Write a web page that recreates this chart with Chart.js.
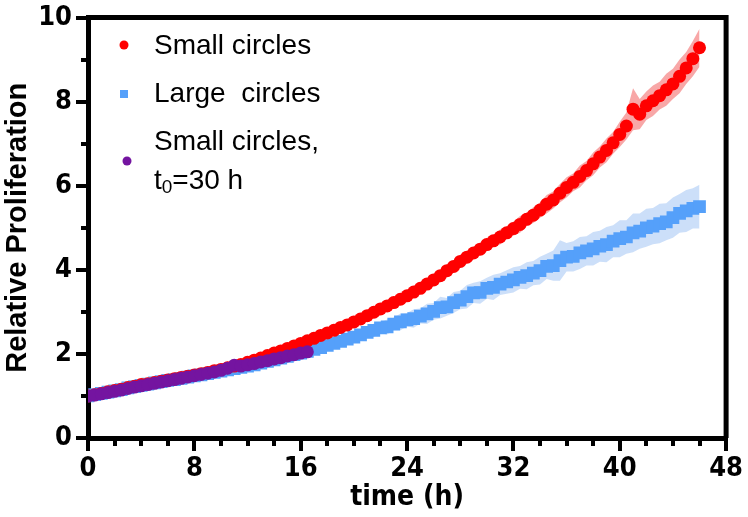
<!DOCTYPE html>
<html><head><meta charset="utf-8">
<script src="https://cdn.jsdelivr.net/npm/chart.js@4.4.0/dist/chart.umd.min.js"></script>
<style>html,body{margin:0;padding:0;background:#fff;}#wrap{position:relative;width:748px;height:517px;}</style>
</head><body><div id="wrap"><canvas id="c" width="748" height="517"></canvas></div>
<script>
// ---- data ----
const times = [0,0.5,1,1.5,2,2.5,3,3.5,4,4.5,5,5.5,6,6.5,7,7.5,8,8.5,9,9.5,10,10.5,11,11.5,12,12.5,13,13.5,14,14.5,15,15.5,16,16.5,17,17.5,18,18.5,19,19.5,20,20.5,21,21.5,22,22.5,23,23.5,24,24.5,25,25.5,26,26.5,27,27.5,28,28.5,29,29.5,30,30.5,31,31.5,32,32.5,33,33.5,34,34.5,35,35.5,36,36.5,37,37.5,38,38.5,39,39.5,40,40.5,41,41.5,42,42.5,43,43.5,44,44.5,45,45.5,46];
const smallCircles = [1.00,1.03,1.06,1.10,1.13,1.16,1.20,1.23,1.27,1.29,
 1.32,1.35,1.38,1.41,1.44,1.47,1.50,1.53,1.56,1.60,
 1.63,1.67,1.71,1.75,1.80,1.85,1.90,1.96,2.02,2.07,
 2.13,2.19,2.25,2.31,2.37,2.44,2.50,2.56,2.63,2.69,
 2.76,2.83,2.91,2.99,3.07,3.14,3.22,3.30,3.38,3.47,
 3.56,3.66,3.76,3.86,3.98,4.08,4.20,4.30,4.40,4.49,
 4.60,4.69,4.78,4.88,4.98,5.08,5.20,5.30,5.42,5.56,
 5.66,5.82,5.96,6.08,6.22,6.36,6.52,6.68,6.84,7.02,
 7.22,7.42,7.82,7.70,7.90,8.02,8.14,8.28,8.42,8.60,
 8.80,9.02,9.28];
const smallCirclesSD = [0.01,0.02,0.02,0.02,0.02,0.02,0.03,0.02,0.03,0.03,
 0.03,0.03,0.03,0.03,0.04,0.03,0.04,0.04,0.04,0.04,
 0.04,0.05,0.04,0.05,0.05,0.05,0.06,0.05,0.06,0.06,
 0.06,0.07,0.06,0.07,0.07,0.08,0.07,0.08,0.08,0.09,
 0.08,0.10,0.09,0.10,0.12,0.09,0.11,0.10,0.12,0.11,
 0.13,0.10,0.14,0.12,0.15,0.12,0.16,0.13,0.15,0.14,
 0.16,0.14,0.18,0.15,0.17,0.20,0.16,0.19,0.18,0.22,
 0.20,0.22,0.24,0.21,0.26,0.23,0.27,0.25,0.28,0.26,
 0.30,0.32,0.50,0.36,0.34,0.36,0.33,0.38,0.36,0.40,
 0.38,0.42,0.45];
const largeCircles = [1.00,1.03,1.06,1.09,1.12,1.15,1.19,1.22,1.25,1.28,
 1.31,1.34,1.37,1.39,1.42,1.45,1.48,1.50,1.53,1.56,
 1.59,1.62,1.65,1.68,1.71,1.74,1.78,1.82,1.86,1.90,
 1.94,1.98,2.02,2.06,2.11,2.15,2.20,2.25,2.30,2.35,
 2.40,2.45,2.51,2.56,2.62,2.64,2.71,2.76,2.81,2.84,
 2.90,2.95,3.01,3.10,3.12,3.22,3.28,3.36,3.45,3.46,
 3.56,3.58,3.66,3.71,3.76,3.82,3.86,3.92,3.98,4.08,
 4.10,4.22,4.30,4.32,4.40,4.45,4.50,4.56,4.60,4.68,
 4.74,4.78,4.88,4.92,5.00,5.04,5.10,5.14,5.24,5.34,
 5.40,5.46,5.50];
const largeCirclesSD = [0.01,0.02,0.02,0.02,0.03,0.02,0.03,0.03,0.03,0.03,
 0.03,0.04,0.03,0.04,0.04,0.04,0.04,0.05,0.04,0.05,
 0.05,0.05,0.06,0.05,0.06,0.06,0.07,0.06,0.07,0.07,
 0.08,0.07,0.08,0.09,0.08,0.10,0.09,0.11,0.10,0.12,
 0.11,0.14,0.12,0.16,0.13,0.18,0.15,0.20,0.16,0.22,
 0.18,0.24,0.20,0.26,0.21,0.25,0.22,0.28,0.24,0.27,
 0.25,0.30,0.26,0.28,0.30,0.27,0.32,0.29,0.33,0.30,
 0.36,0.48,0.34,0.36,0.38,0.35,0.40,0.37,0.42,0.38,
 0.44,0.40,0.46,0.42,0.45,0.43,0.47,0.44,0.48,0.46,
 0.50,0.48,0.52];
const timesT30 = [0,0.5,1,1.5,2,2.5,3,3.5,4,4.5,5,5.5,6,6.5,7,7.5,8,8.5,9,9.5,10,10.5,11,11.5,12,12.5,13,13.5,14,14.5,15,15.5,16,16.5];
const smallCirclesT30 = [1.00,1.02,1.05,1.08,1.11,1.14,1.18,1.21,1.24,1.27,
 1.30,1.33,1.36,1.39,1.42,1.45,1.48,1.51,1.54,1.57,
 1.61,1.66,1.73,1.71,1.74,1.77,1.81,1.84,1.88,1.91,
 1.95,1.98,2.02,2.05];
const xTickLabels = [0,8,16,24,32,40,48];
const yTickLabels = [0,2,4,6,8,10];
const seriesNames = ['Small circles','Large  circles','Small circles,'];

// ---- helpers ----
const pts = (xs, ys) => xs.map((x,i)=>({x:x,y:ys[i]}));
const band = (ys, sd, s) => times.map((x,i)=>({x:x,y:ys[i]+s*sd[i]}));

const RED='#FF0000', BLUE='#55A0FA', PURPLE='#7414A0';
const NARROW='"Liberation Sans Narrow","DejaVu Sans Condensed",Arial,sans-serif';
const SANS='"Liberation Sans",Arial,sans-serif';

const framePlugin = {
  id:'frame',
  afterDraw(chart){
    const ctx=chart.ctx, a=chart.chartArea, xs=chart.scales.x, ys=chart.scales.y;
    ctx.save();
    ctx.strokeStyle='#000'; ctx.lineWidth=5;
    ctx.beginPath();
    ctx.moveTo(a.left, a.top); ctx.lineTo(a.right, a.top); ctx.lineTo(a.right, a.bottom);
    ctx.stroke();
    ctx.lineWidth=4;
    for(let v=0; v<=48; v+=2){
      const px=Math.round(xs.getPixelForValue(v));
      const len = (v%8===0)?13:8;
      ctx.beginPath(); ctx.moveTo(px, a.bottom); ctx.lineTo(px, a.bottom+len); ctx.stroke();
    }
    for(let v=0; v<=10; v+=1){
      const py=Math.round(ys.getPixelForValue(v));
      const len = (v%2===0)?12:7;
      ctx.beginPath(); ctx.moveTo(a.left, py); ctx.lineTo(a.left-len, py); ctx.stroke();
    }
    // legend
    const L=a.left;
    ctx.fillStyle='#000'; ctx.textBaseline='middle'; ctx.textAlign='left';
    ctx.font='28px '+SANS;
    ctx.fillStyle=RED; ctx.beginPath(); ctx.arc(L+36,45,4.5,0,Math.PI*2); ctx.fill();
    ctx.fillStyle='#000'; ctx.fillText(seriesNames[0], L+66, 46);
    ctx.fillStyle=BLUE; ctx.fillRect(L+32,90,8,8);
    ctx.fillStyle='#000'; ctx.fillText(seriesNames[1], L+66, 94);
    ctx.fillStyle=PURPLE; ctx.beginPath(); ctx.arc(L+39,161,4.5,0,Math.PI*2); ctx.fill();
    ctx.fillStyle='#000'; ctx.fillText(seriesNames[2], L+66, 142);
    ctx.fillText('t', L+66, 181);
    const tw=ctx.measureText('t').width;
    ctx.font='19px '+SANS; ctx.fillText('0', L+66+tw, 188);
    const zw=ctx.measureText('0').width;
    ctx.font='28px '+SANS; ctx.fillText('=30 h', L+66+tw+zw, 181);
    ctx.restore();
  }
};

new Chart(document.getElementById('c'), {
  type:'line',
  data:{datasets:[
    {label:'Small circles, t0=30 h', data:pts(timesT30, smallCirclesT30), showLine:false, pointRadius:6.5, pointBackgroundColor:PURPLE, pointBorderWidth:0, order:0},
    {label:'Small circles', data:pts(times, smallCircles), showLine:false, pointRadius:6.5, pointBackgroundColor:RED, pointBorderWidth:0, order:1},
    {label:'Large  circles', data:pts(times, largeCircles), showLine:false, pointStyle:'rect', pointRadius:9, pointBackgroundColor:BLUE, pointBorderWidth:0, order:2},
    {label:'sc+', data:band(smallCircles, smallCirclesSD, 1), pointRadius:0, borderWidth:0, fill:'+1', backgroundColor:'rgba(240,60,60,0.45)', order:3},
    {label:'sc-', data:band(smallCircles, smallCirclesSD, -1), pointRadius:0, borderWidth:0, fill:false, order:3},
    {label:'lc+', data:band(largeCircles, largeCirclesSD, 1), pointRadius:0, borderWidth:0, fill:'+1', backgroundColor:'rgba(85,150,235,0.3)', order:4},
    {label:'lc-', data:band(largeCircles, largeCirclesSD, -1), pointRadius:0, borderWidth:0, fill:false, order:4}
  ]},
  options:{
    responsive:false, animation:false, devicePixelRatio:1,
    layout:{padding:{top:14,right:19,left:0,bottom:0}},
    plugins:{legend:{display:false}, tooltip:{enabled:false}},
    scales:{
      x:{type:'linear', min:0, max:48,
        afterBuildTicks(s){ s.ticks = xTickLabels.map(v=>({value:v})); },
        afterFit(s){ s.height = 79; },
        ticks:{color:'#000', font:{family:NARROW, size:27, weight:'bold', lineHeight:1}, padding:5, maxRotation:0, autoSkip:false},
        grid:{display:true, drawOnChartArea:false, drawTicks:true, tickLength:12, tickColor:'rgba(0,0,0,0)'},
        border:{display:true, color:'#000', width:5},
        title:{display:true, text:'time (h)', color:'#000', font:{family:NARROW, size:28, weight:'bold', lineHeight:1}, padding:{top:0,bottom:5}}
      },
      y:{min:0, max:10,
        afterBuildTicks(s){ s.ticks = yTickLabels.map(v=>({value:v})); },
        afterFit(s){ s.width = 88; },
        ticks:{color:'#000', font:{family:NARROW, size:27, weight:'bold', lineHeight:1}, padding:4},
        grid:{display:true, drawOnChartArea:false, drawTicks:true, tickLength:12, tickColor:'rgba(0,0,0,0)'},
        border:{display:true, color:'#000', width:5},
        title:{display:true, text:'Relative Proliferation', color:'#000', font:{family:SANS, size:29, weight:'bold', lineHeight:1}, padding:{top:3,bottom:0}}
      }
    }
  },
  plugins:[framePlugin]
});
</script></body></html>
